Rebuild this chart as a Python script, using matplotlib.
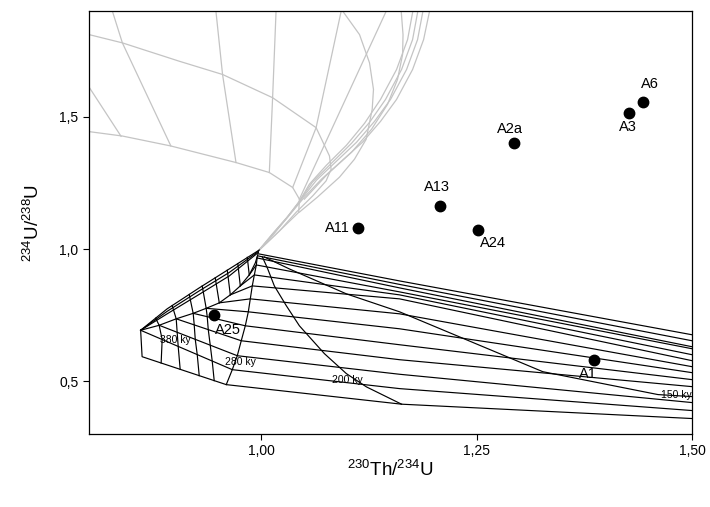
import matplotlib
matplotlib.use("Agg")
import matplotlib.pyplot as plt

plt.rcParams['font.family'] = ['Liberation Sans', 'DejaVu Sans']
plt.rcParams['mathtext.default'] = 'regular'

# ---- sample activity ratios ----
names = ["A11", "A13", "A24", "A2a", "A3", "A6", "A25", "A1"]
th_u = [1.1128, 1.2070, 1.2520, 1.2934, 1.4271, 1.4434, 0.9450, 1.3860]
u_u = [1.0781, 1.1634, 1.0728, 1.4026, 1.5158, 1.5574, 0.7521, 0.5800]

# ---- grey grid: initial 234U excess (curves of constant initial ratio) ----
g1_x = [0.8, 0.8387, 0.9047, 0.9550, 1.0131, 1.0636, 1.0791, 1.0810, 1.0752, 1.0597, 1.0403, 1.0209, 0.9965]
g1_y = [1.8113, 1.7800, 1.7106, 1.6604, 1.5725, 1.4592, 1.3521, 1.3019, 1.2577, 1.2011, 1.1385, 1.0679, 0.9925]
g2_x = [0.8, 0.8387, 0.8950, 0.9706, 1.0093, 1.0364, 1.0442, 1.0434, 1.0209, 0.9965]
g2_y = [1.4442, 1.4275, 1.3898, 1.3272, 1.2894, 1.2328, 1.1887, 1.1385, 1.0679, 0.9925]
r2_x = [1.1759, 1.1698, 1.1570, 1.1384, 1.1198, 1.0988, 1.0756, 1.0558, 1.0430, 1.0291, 1.0128, 0.9965]
r2_y = [1.9, 1.7925, 1.6792, 1.5660, 1.4755, 1.3925, 1.3170, 1.2453, 1.1736, 1.1170, 1.0566, 0.9925]
r3_x = [1.1817, 1.1756, 1.1628, 1.1442, 1.1256, 1.1047, 1.0814, 1.0593, 1.0442, 1.0302, 1.0140, 0.9965]
r3_y = [1.9, 1.7925, 1.6792, 1.5660, 1.4792, 1.4000, 1.3245, 1.2528, 1.1811, 1.1208, 1.0604, 0.9925]
r4_x = [1.1876, 1.1814, 1.1686, 1.1500, 1.1314, 1.1105, 1.0872, 1.0640, 1.0465, 1.0314, 1.0151, 0.9965]
r4_y = [1.9, 1.7925, 1.6792, 1.5660, 1.4830, 1.4038, 1.3321, 1.2604, 1.1887, 1.1245, 1.0604, 0.9925]
r5_x = [1.1953, 1.1884, 1.1756, 1.1570, 1.1384, 1.1174, 1.0942, 1.0698, 1.0500, 1.0326, 1.0151, 0.9965]
r5_y = [1.9, 1.7925, 1.6792, 1.5660, 1.4830, 1.4038, 1.3358, 1.2642, 1.1962, 1.1283, 1.0604, 0.9925]
# grey isochrons
i0_x = [0.7988, 0.8372]
i0_y = [1.6189, 1.4264]
i1_x = [0.8271, 0.8387, 0.8950]
i1_y = [1.9, 1.7800, 1.3898]
i2_x = [0.9473, 0.9550, 0.9706]
i2_y = [1.9, 1.6604, 1.3272]
i3_x = [1.0171, 1.0131, 1.0093]
i3_y = [1.9, 1.5725, 1.2894]
i4_x = [1.0927, 1.0636, 1.0364]
i4_y = [1.9, 1.4592, 1.2328]
i5_x = [1.1450, 1.0442]
i5_y = [1.9, 1.1887]
b1_x = [1.0945, 1.1140, 1.1256, 1.1302, 1.1287, 1.1217, 1.1081, 1.0907, 1.0651, 1.0442]
b1_y = [1.9, 1.8113, 1.7045, 1.6038, 1.5283, 1.4151, 1.3396, 1.2717, 1.1962, 1.1396]
b2_x = [1.1624, 1.1645, 1.1640, 1.1581, 1.1465, 1.1279, 1.1047, 1.0767, 1.0500]
b2_y = [1.9, 1.8113, 1.7358, 1.6415, 1.5472, 1.4528, 1.3660, 1.2830, 1.1887]

# ---- black grid: initial 234U deficit ----
l1_x = [1.5, 1.1605, 0.9977]
l1_y = [0.6755, 0.8792, 0.9811]
l2_x = [1.5, 1.1605, 0.9965]
l2_y = [0.6528, 0.8660, 0.9736]
l3_x = [1.5, 1.1605, 0.9953]
l3_y = [0.6302, 0.8528, 0.9660]
l4_x = [1.5, 1.1605, 0.9942, 0.9860]
l4_y = [0.6226, 0.8377, 0.9396, 0.9019]
l5_x = [1.5, 1.1605, 0.9919, 0.9756]
l5_y = [0.6000, 0.8264, 0.9019, 0.8604]
l6_x = [1.5, 1.1605, 0.9895, 0.9640]
l6_y = [0.5774, 0.8113, 0.8604, 0.8264]
l7_x = [1.5, 1.1605, 0.9872, 0.9512]
l7_y = [0.5547, 0.7547, 0.8113, 0.7962]
l8_x = [1.5, 1.1605, 0.9849, 0.9360]
l8_y = [0.5321, 0.6981, 0.7623, 0.7755]
l9_x = [1.5, 1.1605, 0.9814, 0.9209]
l9_y = [0.5057, 0.6377, 0.7094, 0.7566]
l10_x = [1.5, 1.1605, 0.9767, 0.9012]
l10_y = [0.4792, 0.5811, 0.6528, 0.7358]
l11_x = [1.5, 1.1605, 0.9721, 0.8814]
l11_y = [0.4189, 0.5260, 0.5962, 0.7113]
l12_x = [1.5, 1.1605, 0.9663, 0.8599]
l12_y = [0.3887, 0.4717, 0.5434, 0.6925]
l13_x = [1.5, 1.1628, 0.9593, 0.8616, 0.8599]
l13_y = [0.3585, 0.4128, 0.4868, 0.5925, 0.6925]
# returning branches along the upper edge
u1_x = [0.8599, 0.8907, 0.9279, 0.9628, 0.9977]
u1_y = [0.6925, 0.7736, 0.8528, 0.9245, 0.9962]
u2_x = [0.8599, 0.8907, 0.9279, 0.9628, 0.9965]
u2_y = [0.6925, 0.7642, 0.8415, 0.9113, 0.9906]
u3_x = [0.8599, 0.8907, 0.9279, 0.9628, 0.9965]
u3_y = [0.6925, 0.7547, 0.8283, 0.8981, 0.9868]
s_x = [0.8599, 0.8814, 0.9012, 0.9209, 0.9360, 0.9512, 0.9640, 0.9756, 0.9860, 0.9930, 0.9965]
s_y = [0.6925, 0.7113, 0.7358, 0.7566, 0.7755, 0.7962, 0.8264, 0.8604, 0.9019, 0.9472, 0.9849]
# isochrons
iso150_x = [1.5, 1.4605, 1.3267, 1.1605, 1.0988, 1.0326, 1.0035]
iso150_y = [0.4415, 0.4491, 0.5358, 0.7623, 0.8302, 0.9245, 0.9698]
iso200_x = [1.1628, 1.1221, 1.0988, 1.0733, 1.0442, 1.0291, 1.0151, 1.0070, 1.0012]
iso200_y = [0.4128, 0.4781, 0.5283, 0.6038, 0.7094, 0.7849, 0.8604, 0.9283, 0.9698]
iso280_x = [0.9593, 0.9663, 0.9721, 0.9767, 0.9814, 0.9849, 0.9872, 0.9895, 0.9919, 0.9942, 0.9953]
iso280_y = [0.4868, 0.5434, 0.5962, 0.6528, 0.7094, 0.7623, 0.8113, 0.8604, 0.9019, 0.9396, 0.9698]
iso380_x = [0.8965, 0.9012, 0.9023, 0.9035, 0.9058]
iso380_y = [0.7860, 0.7358, 0.6849, 0.6313, 0.5445]
isoa_x = [0.8773, 0.8814, 0.8849, 0.8837]
isoa_y = [0.7381, 0.7113, 0.6574, 0.5687]
isoc_x = [0.9163, 0.9209, 0.9221, 0.9233, 0.9256, 0.9279]
isoc_y = [0.8279, 0.7566, 0.7128, 0.6581, 0.6004, 0.5208]
isod_x = [0.9314, 0.9360, 0.9372, 0.9384, 0.9407, 0.9430, 0.9453]
isod_y = [0.8600, 0.7755, 0.7438, 0.6951, 0.6362, 0.5758, 0.5019]
c5_x = [0.9465, 0.9512]
c5_y = [0.8909, 0.7962]
c6_x = [0.9605, 0.9640]
c6_y = [0.9196, 0.8264]
c7_x = [0.9727, 0.9756]
c7_y = [0.9449, 0.8604]
c8_x = [0.9837, 0.9860]
c8_y = [0.9683, 0.9019]

age_labels = ["150 ky", "200 ky", "280 ky", "380 ky"]
age_lab_x = [1.4814, 1.1000, 0.9756, 0.9000]
age_lab_y = [0.4490, 0.5057, 0.5736, 0.6566]

grey_lines = [(g1_x, g1_y), (g2_x, g2_y), (r2_x, r2_y), (r3_x, r3_y), (r4_x, r4_y),
              (r5_x, r5_y), (i0_x, i0_y), (i1_x, i1_y), (i2_x, i2_y), (i3_x, i3_y),
              (i4_x, i4_y), (i5_x, i5_y), (b1_x, b1_y), (b2_x, b2_y)]
black_lines = [(l1_x, l1_y), (l2_x, l2_y), (l3_x, l3_y), (l4_x, l4_y), (l5_x, l5_y),
               (l6_x, l6_y), (l7_x, l7_y), (l8_x, l8_y), (l9_x, l9_y), (l10_x, l10_y),
               (l11_x, l11_y), (l12_x, l12_y), (l13_x, l13_y),
               (u1_x, u1_y), (u2_x, u2_y), (u3_x, u3_y), (s_x, s_y),
               (iso150_x, iso150_y), (iso200_x, iso200_y), (iso280_x, iso280_y),
               (iso380_x, iso380_y), (isoa_x, isoa_y), (isoc_x, isoc_y), (isod_x, isod_y),
               (c5_x, c5_y), (c6_x, c6_y), (c7_x, c7_y), (c8_x, c8_y)]

fig = plt.figure(figsize=(7.1, 5.07), dpi=100)
ax = fig.add_axes([0.1254, 0.144, 0.8493, 0.834])

for xs, ys in grey_lines:
    ax.plot(xs, ys, color='#c4c4c4', lw=0.9, zorder=1)
for xs, ys in black_lines:
    ax.plot(xs, ys, color='black', lw=0.85, zorder=2)
for lab, lx, ly in zip(age_labels, age_lab_x, age_lab_y):
    ax.text(lx, ly, lab, fontsize=7.5, ha='center', va='center', color='black',
            zorder=3, clip_on=True)

ax.plot(th_u, u_u, 'o', color='black', ms=7.5, zorder=4)

# label placement (offset points, alignment)
lab_pos = {
    "A11": (-6.5, 0, "right"),
    "A13": (-2.2, 13.7, "center"),
    "A24": (10.5, -9.8, "center"),
    "A2a": (-3.1, 10.1, "center"),
    "A3": (-1.2, -10.4, "center"),
    "A6": (4.8, 12.5, "center"),
    "A25": (9.8, -10.8, "center"),
    "A1": (-4.0, -10.4, "center"),
}
for n, x, y in zip(names, th_u, u_u):
    dx, dy, ha = lab_pos[n]
    ax.annotate(n, (x, y), xytext=(dx, dy), textcoords='offset points',
                ha=ha, va='center', fontsize=10.5, zorder=5)

ax.set_xlim(0.8, 1.5)
ax.set_ylim(0.3, 1.9)
ax.set_xticks([1.0, 1.25, 1.5])
ax.set_xticklabels(["1,00", "1,25", "1,50"])
ax.set_yticks([0.5, 1.0, 1.5])
ax.set_yticklabels(["0,5", "1,0", "1,5"])
ax.tick_params(direction='out', length=4, labelsize=10, width=0.8)
for s in ax.spines.values():
    s.set_linewidth(0.9)
ax.set_xlabel("$^{230}$Th/$^{234}$U", fontsize=13.5, labelpad=1)
ax.set_ylabel("$^{234}$U/$^{238}$U", fontsize=13.5, labelpad=12)

fig.savefig("out.png", dpi=100)
